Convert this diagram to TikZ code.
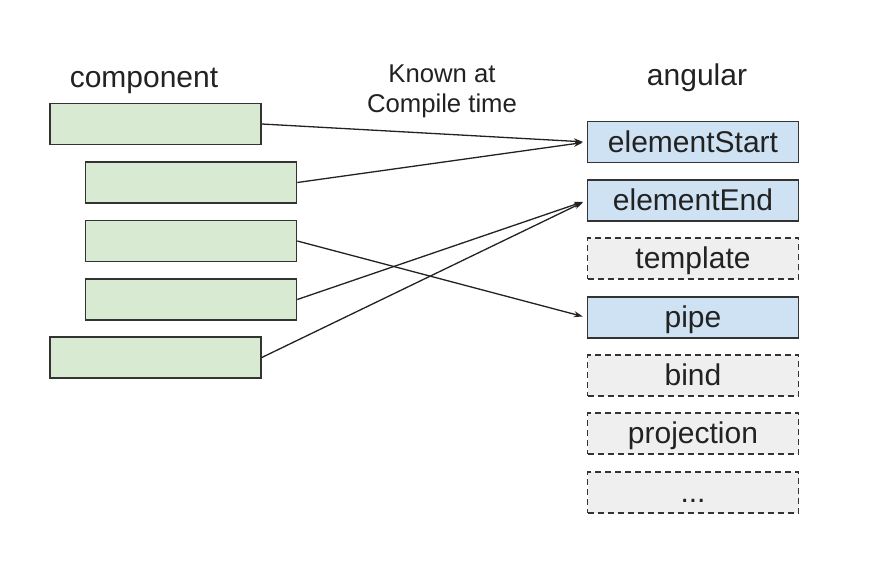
\documentclass[tikz,border=0pt]{standalone}
\usepackage{fontspec}
\setmainfont{Liberation Sans}
\usetikzlibrary{arrows.meta}
\definecolor{gfill}{HTML}{D9EAD3}
\definecolor{bfill}{HTML}{CFE2F3}
\definecolor{dfill}{HTML}{EFEFEF}
\definecolor{edge}{HTML}{333333}
\definecolor{ink}{HTML}{222222}
\begin{document}
\begin{tikzpicture}[x=1pt,y=-1pt,
  box/.style={draw=edge,line width=1.6pt,minimum width=211pt,minimum height=41pt,inner sep=0pt,
    font=\fontsize{30}{36}\selectfont,text=ink,text height=23pt,text depth=3pt},
  compbox/.style={box,fill=gfill},
  usedbox/.style={box,fill=bfill},
  optbox/.style={box,fill=dfill,dash pattern=on 6pt off 4pt},
  heading/.style={font=\fontsize{30}{36}\selectfont,text=ink,inner sep=0pt,anchor=base},
  conn/.style={draw=ink,line width=1.3pt,shorten >=4pt,-{Stealth[length=9pt,width=6pt]}}
]
\useasboundingbox[fill=white] (0,0) rectangle (892,565);

\node[heading] (hcomp) at (144,87) {component};
\node[heading] (hang) at (697,85) {angular};
\node[text=ink,inner sep=0pt,anchor=base,align=center,font=\fontsize{25.7}{30}\selectfont] (hknown) at (442,112) {Known at\\Compile time};

\node[compbox] (g1) at (155.5,124) {};
\node[compbox] (g2) at (191,182.5) {};
\node[compbox] (g3) at (191,241) {};
\node[compbox] (g4) at (191,299.5) {};
\node[compbox] (g5) at (155.5,357.5) {};

\node[usedbox] (es) at (693,142) {elementStart};
\node[usedbox] (ee) at (693,200.5) {elementEnd};
\node[optbox] (tp) at (693,258.5) {template};
\node[usedbox] (pp) at (693,317.5) {pipe};
\node[optbox] (bd) at (693,375.5) {bind};
\node[optbox] (pj) at (693,433.5) {projection};
\node[optbox] (dt) at (693,492.5) {...};

\draw[conn] (g1.east) -- (es.west);
\draw[conn] (g2.east) -- (es.west);
\draw[conn] (g3.east) -- (pp.west);
\draw[conn] (g4.east) -- (ee.west);
\draw[conn] (g5.east) -- (ee.west);
\end{tikzpicture}
\end{document}
